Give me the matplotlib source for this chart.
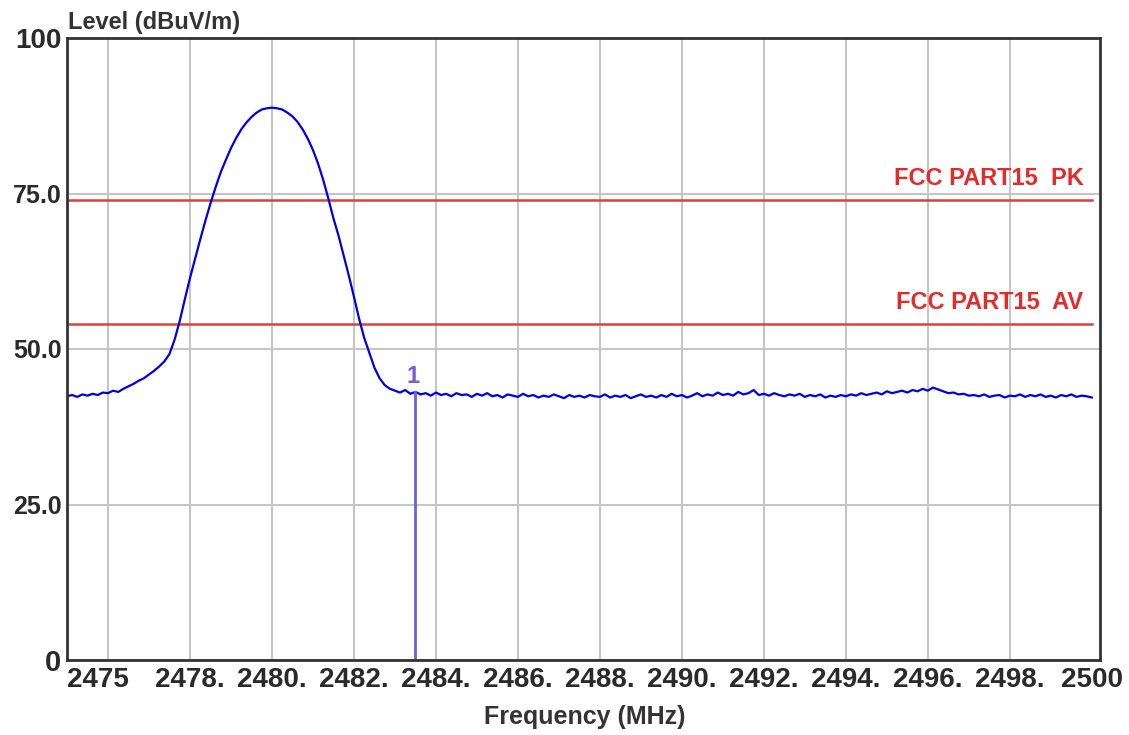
import numpy as np
import matplotlib
matplotlib.use("Agg")
import matplotlib.pyplot as plt

# sweep: 2475 - 2500 MHz, 0.125 MHz step
freq = np.arange(2475.0, 2500.0001, 0.125)

level_band = [
    42.4, 42.6, 42.3, 42.7, 42.5, 42.8, 42.6, 43.0,
    42.9, 43.3, 43.1, 43.6, 44.0, 44.4, 44.9, 45.3,
    45.9, 46.5, 47.2, 48.0, 49.2, 51.5, 54.5, 58.0,
    61.4, 64.5, 67.6, 70.6, 73.4, 76.0, 78.4, 80.4,
    82.3, 83.9, 85.3, 86.4, 87.3, 88.0, 88.5, 88.7,
    88.8, 88.7, 88.5, 88.0, 87.4, 86.5, 85.3, 83.8,
    82.0, 79.8, 77.2, 74.2, 71.0, 68.2, 65.0, 61.8,
    58.4, 54.9, 51.8, 49.4, 47.0, 45.3, 44.2, 43.6,
    43.3, 43.0, 43.4, 42.8, 43.1,
]
level_tail = [
    42.7, 42.9, 42.5, 43.0, 42.6, 42.8, 42.4, 42.9, 42.6, 42.7, 42.3, 42.8,
    42.5, 42.9, 42.4, 42.6, 42.2, 42.7, 42.5, 42.3, 42.8, 42.4, 42.6, 42.2,
    42.5, 42.3, 42.7, 42.4, 42.1, 42.6, 42.3, 42.5, 42.2, 42.6, 42.4, 42.3,
    42.7, 42.2, 42.5, 42.3, 42.6, 42.1, 42.4, 42.7, 42.3, 42.5, 42.2, 42.6,
    42.3, 42.8, 42.4, 42.6, 42.2, 42.5, 42.9, 42.4, 42.7, 42.5, 43.0, 42.6,
    42.8, 42.5, 43.1, 42.7, 42.9, 43.4, 42.6, 42.8, 42.5, 42.9, 42.6, 42.4,
    42.7, 42.5, 42.8, 42.3, 42.6, 42.4, 42.7, 42.2, 42.5, 42.3, 42.6, 42.4,
    42.7, 42.5, 42.9, 42.6, 42.8, 43.0, 42.7, 43.2, 42.9, 43.1, 43.3, 43.0,
    43.4, 43.2, 43.6, 43.3, 43.8, 43.5, 43.2, 42.9, 43.0, 42.7, 42.8, 42.5,
    42.6, 42.4, 42.7, 42.3, 42.5, 42.6, 42.2, 42.5, 42.4, 42.7, 42.3, 42.6,
    42.4, 42.7, 42.3, 42.5, 42.2, 42.6, 42.4, 42.7, 42.3, 42.5, 42.4, 42.2,
]
level = np.array(level_band + level_tail)

limit_names = ["FCC PART15  PK", "FCC PART15  AV"]
limit_values = [74.0, 54.0]

marker_freq = 2483.5
marker_level = 43.1
marker_label = "1"

x_ticks = [2475, 2478, 2480, 2482, 2484, 2486, 2488, 2490, 2492, 2494, 2496, 2498, 2500]
x_tick_labels = ["2475", "2478.", "2480.", "2482.", "2484.", "2486.", "2488.",
                 "2490.", "2492.", "2494.", "2496.", "2498.", "2500"]
x_grid = [2476, 2478, 2480, 2482, 2484, 2486, 2488, 2490, 2492, 2494, 2496, 2498]
y_ticks = [0, 25, 50, 75, 100]
y_tick_labels = ["0", "25.0", "50.0", "75.0", "100"]

plt.rcParams['font.family'] = ['Liberation Sans', 'DejaVu Sans']

fig = plt.figure(figsize=(11.29, 7.35), dpi=100)
ax = fig.add_axes([67 / 1129, 1 - 660 / 735, 1033 / 1129, 622 / 735])

ax.set_xlim(2475, 2500.2)
ax.set_ylim(0, 100)

ax.xaxis.remove_overlapping_locs = False
ax.set_xticks(x_grid, minor=True)
ax.set_xticks(x_ticks)
ax.set_xticklabels(x_tick_labels, fontsize=20, fontweight='bold', color='#2a2a2a')
ax.get_xticklabels()[0].set_ha('left')
ax.set_yticks(y_ticks)
ax.set_yticklabels(y_tick_labels, fontsize=18, fontweight='bold', color='#2a2a2a')
# end labels are drawn a bit larger in the original
ylabs = ax.get_yticklabels()
ylabs[0].set_fontsize(21)
ylabs[-1].set_fontsize(20)
ax.tick_params(which='both', length=0)
ax.tick_params(axis='x', pad=5)
ax.tick_params(axis='y', pad=4)

ax.grid(which='minor', axis='x', color='#c4c4c4', linewidth=1.4)
ax.grid(which='major', axis='y', color='#c4c4c4', linewidth=1.4)
ax.set_axisbelow(True)

for sp in ax.spines.values():
    sp.set_color('#333333')
    sp.set_linewidth(2)

for name, val in zip(limit_names, limit_values):
    ax.plot([2475, 2500], [val, val], color='#dd4040', linewidth=1.8)
    ax.text(2499.8, val + 1.6, name, color='#e62a2a', fontsize=17,
            fontweight='bold', ha='right', va='bottom')

ax.plot(freq, level, color='#0000e6', linewidth=1.6)

ax.plot([marker_freq, marker_freq], [0, marker_level], color='#6464dc', linewidth=2)
ax.text(marker_freq - 0.05, marker_level + 0.6, marker_label, color='#7a5ccc',
        fontsize=17, fontweight='bold', ha='center', va='bottom')

fig.text(68 / 1129, 1 - 22 / 735, "Level (dBuV/m)", fontsize=17, fontweight='bold',
         color='#333333', ha='left', va='center')
fig.text(585 / 1129, 1 - 717 / 735, "Frequency (MHz)", fontsize=18, fontweight='bold',
         color='#333333', ha='center', va='center')

fig.savefig("out.png", dpi=100)
